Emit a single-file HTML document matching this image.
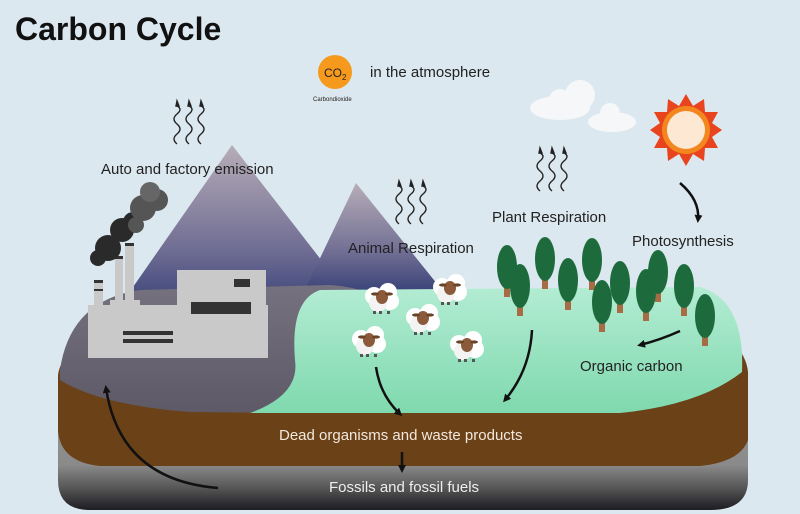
<!DOCTYPE html>
<html><head><style>
html,body{margin:0;padding:0;background:#dce8ef;}
svg{display:block}
text{font-family:"Liberation Sans",sans-serif;}
</style></head><body>
<svg width="800" height="514" viewBox="0 0 800 514" xmlns="http://www.w3.org/2000/svg">
<defs>
<linearGradient id="mt" x1="0" y1="0" x2="0" y2="1"><stop offset="0" stop-color="#b7adb8"/><stop offset="0.6" stop-color="#6f6d93"/><stop offset="1" stop-color="#2e3a73"/></linearGradient>
<linearGradient id="gr" x1="0" y1="0" x2="0" y2="1"><stop offset="0" stop-color="#a0a0a0"/><stop offset="0.75" stop-color="#8a8a8a"/><stop offset="0.88" stop-color="#555"/><stop offset="1" stop-color="#1c1c22"/></linearGradient>
<linearGradient id="pu" x1="0" y1="0" x2="0" y2="1"><stop offset="0" stop-color="#75717f"/><stop offset="1" stop-color="#5e5967"/></linearGradient>
<linearGradient id="gn" x1="0" y1="0" x2="0" y2="1"><stop offset="0" stop-color="#b3ecd3"/><stop offset="1" stop-color="#7fd9ae"/></linearGradient>
<g id="tree"><rect x="-3" y="22" width="6" height="12" fill="#a86c44"/><ellipse cx="0" cy="4" rx="10" ry="22" fill="#1d6b3c"/></g>
<g id="sheep"><circle cx="-8" cy="0" r="9" fill="#fff"/><circle cx="6" cy="-4" r="9" fill="#fff"/><circle cx="8" cy="5" r="9" fill="#fff"/><circle cx="-4" cy="7" r="9" fill="#f3f3f3"/><ellipse cx="0" cy="1" rx="6" ry="7" fill="#8a5a3a"/><ellipse cx="-7" cy="-2" rx="4" ry="1.6" fill="#6b4428"/><ellipse cx="7" cy="-2" rx="4" ry="1.6" fill="#6b4428"/><rect x="-9" y="15" width="3" height="3" fill="#555"/><rect x="-3" y="15" width="3" height="3" fill="#555"/><rect x="5" y="15" width="3" height="3" fill="#555"/></g>
<g id="wave" fill="none" stroke="#222" stroke-width="1.4"><path d="M0 40 q-6 -5 0 -10 q6 -5 0 -10 q-6 -5 0 -10 q6 -5 0 -8"/><path d="M-1 2 l1 -5 l2 5z" fill="#222"/></g>
<marker id="ar" markerWidth="8" markerHeight="8" refX="5" refY="4" orient="auto" markerUnits="userSpaceOnUse"><path d="M0 0 L8 4 L0 8z" fill="#111"/></marker>
</defs>
<rect width="800" height="514" fill="#dce8ef"/>
<text x="15" y="40" font-size="32" font-weight="bold" fill="#111">Carbon Cycle</text>
<circle cx="335" cy="72" r="17" fill="#f59a1c"/>
<text x="324" y="77" font-size="12" fill="#222">CO<tspan font-size="8" dy="3">2</tspan></text>
<text x="313" y="101" font-size="6" fill="#222">Carbondioxide</text>
<text x="370" y="77" font-size="15" fill="#222">in the atmosphere</text>
<g fill="#f6f7f8"><ellipse cx="560" cy="108" rx="30" ry="12"/><circle cx="580" cy="95" r="15"/><circle cx="560" cy="100" r="11"/><ellipse cx="612" cy="122" rx="24" ry="10"/><circle cx="610" cy="113" r="10"/></g>
<g transform="translate(686,130)">
<polygon fill="#e8441e" points="0,-36 7,-24 18,-31 19,-18 32,-18 26,-7 36,0 26,7 32,18 19,18 18,31 7,24 0,36 -7,24 -18,31 -19,18 -32,18 -26,7 -36,0 -26,-7 -32,-18 -19,-18 -18,-31 -7,-24"/>
<circle r="24" fill="#f4861f"/><circle r="19" fill="#fde9d3"/></g>
<path d="M58 380 Q60 345 110 335 L700 330 Q748 335 748 380 L748 480 Q748 510 710 510 L90 510 Q58 510 58 480Z" fill="url(#gr)"/>
<path d="M58 375 Q62 345 110 340 L700 335 Q745 340 748 372 L748 440 Q740 462 700 466 L100 466 Q60 462 58 430Z" fill="#6b4118"/>
<path d="M110 320 L232 145 L360 310Z" fill="url(#mt)"/>
<path d="M300 300 L356 183 L450 300Z" fill="url(#mt)"/>
<path d="M60 370 Q70 300 140 290 L330 285 Q400 290 360 330 Q300 360 320 395 Q340 410 300 413 L190 412 Q100 405 60 380Z" fill="url(#pu)"/>
<path d="M320 290 L700 287 Q745 300 742 372 Q700 405 620 413 L250 413 Q300 395 295 360 Q290 300 320 290Z" fill="url(#gn)"/>
<g fill="#c9c9c9">
<rect x="88" y="305" width="180" height="53"/>
<rect x="177" y="270" width="89" height="40"/>
<rect x="94" y="282" width="9" height="35"/><rect x="115" y="258" width="8" height="55"/><rect x="125" y="245" width="9" height="65"/>
<rect x="110" y="300" width="30" height="10"/>
</g>
<g fill="#333"><rect x="234" y="279" width="16" height="8"/><rect x="191" y="302" width="60" height="12"/><rect x="123" y="331" width="50" height="4"/><rect x="123" y="339" width="50" height="4"/>
<rect x="94" y="280" width="9" height="3"/><rect x="94" y="289" width="9" height="2"/><rect x="115" y="256" width="8" height="3"/><rect x="125" y="243" width="9" height="3"/></g>
<g fill="#2a2a2a"><circle cx="108" cy="248" r="13"/><circle cx="98" cy="258" r="8"/><circle cx="122" cy="230" r="12"/><circle cx="133" cy="222" r="10"/></g>
<g fill="#555"><circle cx="143" cy="208" r="13"/><circle cx="157" cy="200" r="11"/><circle cx="136" cy="225" r="8"/></g>
<g fill="#666"><circle cx="150" cy="192" r="10"/></g>
<use href="#tree" x="507" y="263"/><use href="#tree" x="545" y="255"/><use href="#tree" x="520" y="282"/>
<use href="#tree" x="568" y="276"/><use href="#tree" x="592" y="256"/><use href="#tree" x="620" y="279"/>
<use href="#tree" x="658" y="268"/><use href="#tree" x="646" y="287"/><use href="#tree" x="602" y="298"/>
<use href="#tree" x="684" y="282"/><use href="#tree" x="705" y="312"/>
<use href="#sheep" x="382" y="296"/><use href="#sheep" x="450" y="287"/><use href="#sheep" x="423" y="317"/><use href="#sheep" x="369" y="339"/><use href="#sheep" x="467" y="344"/>
<use href="#wave" x="177" y="104"/><use href="#wave" x="189" y="104"/><use href="#wave" x="201" y="104"/>
<use href="#wave" x="399" y="184"/><use href="#wave" x="411" y="184"/><use href="#wave" x="423" y="184"/>
<use href="#wave" x="540" y="151"/><use href="#wave" x="552" y="151"/><use href="#wave" x="564" y="151"/>
<g fill="none" stroke="#111" stroke-width="2.5">
<path d="M680 183 Q700 200 698 220" marker-end="url(#ar)"/>
<path d="M680 331 Q660 340 640 345" marker-end="url(#ar)"/>
<path d="M532 330 Q530 370 505 400" marker-end="url(#ar)"/>
<path d="M376 367 Q380 395 400 414" marker-end="url(#ar)"/>
<path d="M402 452 L402 470" marker-end="url(#ar)"/>
<path d="M218 488 Q120 480 106 388" marker-end="url(#ar)"/>
</g>
<g font-size="15" fill="#222">
<text x="101" y="174">Auto and factory emission</text>
<text x="348" y="253">Animal Respiration</text>
<text x="492" y="222">Plant Respiration</text>
<text x="632" y="246">Photosynthesis</text>
<text x="580" y="371">Organic carbon</text>
</g>
<text x="279" y="440" font-size="15" fill="#f2e8dc">Dead organisms and waste products</text>
<text x="329" y="492" font-size="15" fill="#eeeeee">Fossils and fossil fuels</text>
</svg>
</body></html>
